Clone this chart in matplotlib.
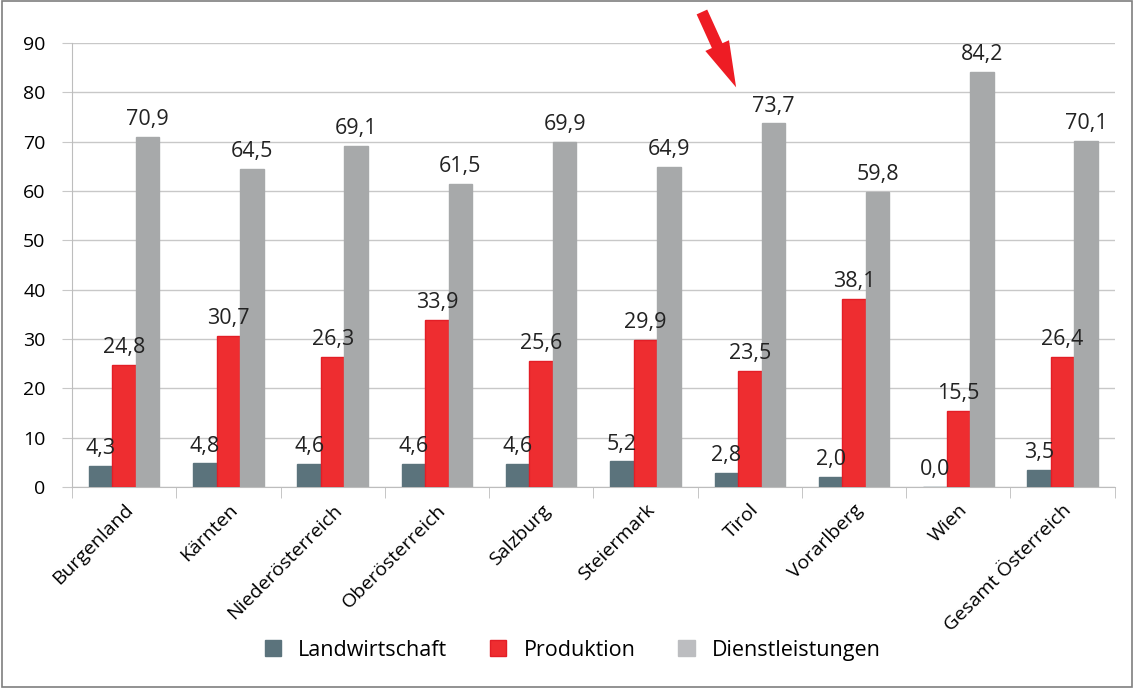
import matplotlib.pyplot as plt
import numpy as np

plt.rcParams['font.family'] = ['Open Sans', 'DejaVu Sans']

regionen = ["Burgenland", "Kärnten", "Niederösterreich", "Oberösterreich", "Salzburg",
            "Steiermark", "Tirol", "Vorarlberg", "Wien", "Gesamt Österreich"]
landwirtschaft = [4.3, 4.8, 4.6, 4.6, 4.6, 5.2, 2.8, 2.0, 0.0, 3.5]
produktion = [24.8, 30.7, 26.3, 33.9, 25.6, 29.9, 23.5, 38.1, 15.5, 26.4]
dienstleistungen = [70.9, 64.5, 69.1, 61.5, 69.9, 64.9, 73.7, 59.8, 84.2, 70.1]

fig = plt.figure(figsize=(11.34, 6.88), dpi=100)
ax = fig.add_axes([0.0635, 0.292, 0.9195, 0.6455])

x = np.arange(len(regionen))
w = 0.225
serien = [
    (landwirtschaft, "Landwirtschaft", "#5b737c", "#5b737c"),
    (produktion, "Produktion", "#ee2d30", "#e31e26"),
    (dienstleistungen, "Dienstleistungen", "#a7a9aa", "#a7a9aa"),
]
for i, (werte, name, farbe, rand) in enumerate(serien):
    pos = x + (i - 1) * w
    ax.bar(pos, werte, width=w, color=farbe, edgecolor=rand, linewidth=1, label=name, zorder=3)
    for px, v in zip(pos, werte):
        ax.text(px, v + 1.4, f"{v:.1f}".replace(".", ","), ha="center", va="bottom",
                fontsize=15.5, color="#222222", zorder=4)

ax.set_xlim(-0.5, len(regionen) - 0.5)
ax.set_ylim(0, 90)
ax.set_yticks(range(0, 91, 10))
ax.grid(axis="y", color="#c8c8c8", linewidth=1, zorder=0)
for s in ["top", "right"]:
    ax.spines[s].set_visible(False)
ax.spines["left"].set_color("#bdbdbd")
ax.spines["bottom"].set_color("#bdbdbd")
ax.tick_params(axis="y", length=7, color="#c8c8c8", labelsize=14, pad=12)
ax.set_xticks(x)
ax.set_xticklabels(regionen, rotation=45, ha="right", rotation_mode="anchor", fontsize=14)
ax.tick_params(axis="x", length=0, pad=10)
ax.set_xticks(np.arange(-0.5, len(regionen), 1), minor=True)
ax.tick_params(axis="x", which="minor", length=8, color="#bdbdbd")

ax.annotate("", xy=(5.88, 80.5), xytext=(5.53, 96.8), xycoords="data",
            arrowprops=dict(arrowstyle="simple,head_width=0.85,head_length=1.5,tail_width=0.38",
                            mutation_scale=22, color="#ee1c24", lw=0), annotation_clip=False)

leg = fig.legend(loc="center", bbox_to_anchor=(0.505, 0.055), ncol=3, frameon=False,
                 fontsize=15.5, handlelength=0.75, handleheight=0.75, columnspacing=2.0,
                 handletextpad=0.8)
leg.legend_handles[2].set_color("#bcbdc0")

fig.patches.append(plt.Rectangle((0.002, 0.002), 0.996, 0.996, transform=fig.transFigure,
                                 fill=False, edgecolor="#7f7f7f", linewidth=1.2))

fig.savefig("out.png", dpi=100)
